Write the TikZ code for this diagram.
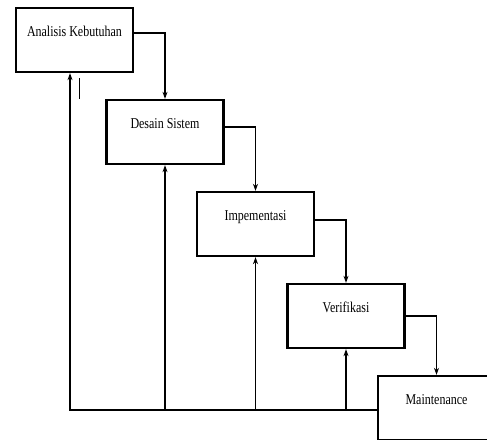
\documentclass[tikz,border=0pt]{standalone}
\usepackage{fontspec}
\setmainfont[FakeStretch=0.8]{Liberation Serif}
\usepackage{tikz}
\usetikzlibrary{positioning, arrows.meta}
\tikzset{
	>={Stealth[length=7pt, width=5pt]}, % small filled heads
	phase/.style={draw, line width=2.3pt, minimum width=117pt, minimum height=64pt,
		text height=11pt, text depth=18pt, font=\fontsize{15}{17}\selectfont}, % one waterfall step
	flow/.style={->, line width=1.4pt}, % arrow to the next step
	back/.style={->, line width=1.4pt}, % feedback line
}
\begin{document}
\begin{tikzpicture}[x=1pt, y=1pt, node distance=92pt and 90.5pt, on grid]
        \useasboundingbox[clip] (0,0) rectangle (487,-439);
        \fill[white] (0,0) rectangle (487,-439);
        % Phases going down the stairs
        \node[phase] (analisis) at (74.5,-40) {Analisis Kebutuhan};
        \node[phase, below right=of analisis] (desain) {Desain Sistem};
        \node[phase, below right=of desain] (implementasi) {Impementasi};
        \node[phase, below right=of implementasi] (verifikasi) {Verifikasi};
        \node[phase, below right=of verifikasi] (maintenance) {Maintenance};

        % Forward arrows
        \draw[flow] ([yshift=7pt]analisis.east) -| (desain.north);
        \draw[flow] ([yshift=5pt]desain.east) -| (implementasi.north);
        \draw[flow] ([yshift=4pt]implementasi.east) -| (verifikasi.north);
        \draw[flow] (verifikasi.east) -| (maintenance.north);

        % Feedback arrows
        \draw[back] ([yshift=-2pt]maintenance.west) -| ([xshift=-4.5pt]analisis.south);
        \draw[back] ([yshift=-2pt]maintenance.west -| desain.south) -- (desain.south);
        \draw[back] ([yshift=-2pt]maintenance.west -| implementasi.south) -- (implementasi.south);
        \draw[back] ([yshift=-2pt]maintenance.west -| verifikasi.south) -- (verifikasi.south);

        % stray mark under the first box
        \draw[line width=0.8pt] ([xshift=4.5pt,yshift=-5pt]analisis.south) -- ++(0,-21);
\end{tikzpicture}
\end{document}
